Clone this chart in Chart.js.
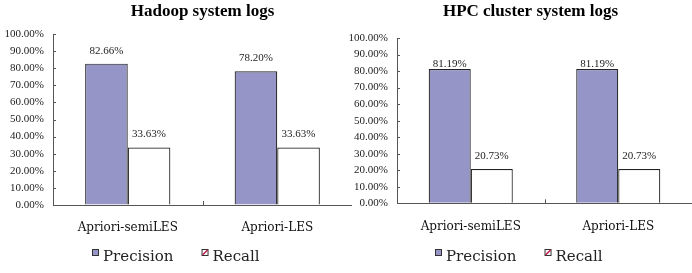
<!DOCTYPE html>
<html>
<head>
<meta charset="utf-8">
<script src="https://cdn.jsdelivr.net/npm/chart.js@4/dist/chart.umd.min.js"></script>
<style>
  html, body { margin: 0; padding: 0; background: #fff; }
  #wrap { position: relative; width: 692px; height: 273px; }
  #c1 { position: absolute; left: 0; top: 0; width: 352px; height: 273px; }
  #c2 { position: absolute; left: 346px; top: 0; width: 346px; height: 273px; }
</style>
</head>
<body>
<div id="wrap">
  <canvas id="c1" width="352" height="273"></canvas>
  <canvas id="c2" width="346" height="273"></canvas>
</div>
<script>
const categories = ['Apriori-semiLES', 'Apriori-LES'];
const seriesNames = ['Precision', 'Recall'];
const hadoopPrecision = [82.66, 78.20];
const hadoopRecall = [33.63, 33.63];
const hpcPrecision = [81.19, 81.19];
const hpcRecall = [20.73, 20.73];
const yMax = 100;
const yStep = 10;

Chart.defaults.font.family = '"Liberation Serif", "Times New Roman", serif';
Chart.defaults.color = '#111';

const purple = '#9595c8';
const edge = '#222';
const axisGray = '#555';
const wideSerif = '"DejaVu Serif", serif';

const topTitle = {
    id: 'topTitle',
    afterDraw(chart, args, opts) {
        const { ctx, chartArea } = chart;
        ctx.save();
        ctx.font = 'bold 17px "Liberation Serif", serif';
        ctx.fillStyle = '#000';
        ctx.textAlign = 'center';
        ctx.textBaseline = 'middle';
        ctx.fillText(opts.text, (chartArea.left + chartArea.right) / 2 + opts.shift, opts.y);
        ctx.restore();
    }
};

const barValues = {
    id: 'barValues',
    afterDatasetsDraw(chart, args, opts) {
        const ctx = chart.ctx;
        ctx.save();
        ctx.font = '11px "Liberation Serif", serif';
        ctx.fillStyle = '#222';
        ctx.textAlign = 'center';
        ctx.textBaseline = 'middle';
        chart.data.datasets.forEach((ds, i) => {
            chart.getDatasetMeta(i).data.forEach((bar, j) => {
                ctx.fillText(ds.data[j].toFixed(2) + '%', bar.x, bar.y - opts.gaps[i]);
            });
        });
        ctx.restore();
    }
};

// tick marks pointing into the plot, like the original
const innerTicks = {
    id: 'innerTicks',
    afterDraw(chart) {
        const ctx = chart.ctx;
        const xs = chart.scales.x, ys = chart.scales.y;
        const area = chart.chartArea;
        ctx.save();
        ctx.strokeStyle = axisGray;
        ctx.lineWidth = 1;
        ctx.beginPath();
        ys.ticks.forEach(t => {
            const y = Math.round(ys.getPixelForValue(t.value)) + 0.5;
            ctx.moveTo(area.left, y);
            ctx.lineTo(area.left + 3, y);
        });
        for (let i = 1; i < categories.length; i++) {
            const x = Math.round((xs.getPixelForValue(i - 1) + xs.getPixelForValue(i)) / 2) + 0.5;
            ctx.moveTo(x, area.bottom);
            ctx.lineTo(x, area.bottom - 4);
        }
        ctx.stroke();
        ctx.restore();
    }
};

// legend drawn by hand: small box tight against the text, wide gap between items
const boxLegend = {
    id: 'boxLegend',
    afterDraw(chart, args, opts) {
        const ctx = chart.ctx;
        ctx.save();
        ctx.font = '15px ' + wideSerif;
        ctx.textBaseline = 'middle';
        const items = chart.data.datasets.map(ds => ({
            text: ds.label, fill: ds.backgroundColor, slash: ds.label === 'Recall',
            w: 7 + 4 + ctx.measureText(ds.label).width
        }));
        const total = items.reduce((a, it) => a + it.w, 0) + opts.gap * (items.length - 1);
        let x = Math.round(chart.width / 2 - total / 2);
        items.forEach(it => {
            const top = opts.y - 8;
            ctx.fillStyle = it.fill;
            ctx.fillRect(x, top, 7, 7);
            ctx.strokeStyle = '#333';
            ctx.lineWidth = 1;
            ctx.strokeRect(x + 0.5, top + 0.5, 6, 6);
            if (it.slash) {
                ctx.strokeStyle = '#c0204a';
                ctx.lineWidth = 1.5;
                ctx.beginPath();
                ctx.moveTo(x + 1, top + 6);
                ctx.lineTo(x + 6, top + 1);
                ctx.stroke();
            }
            ctx.fillStyle = '#222';
            ctx.fillText(it.text, x + 11, opts.y);
            x += it.w + opts.gap;
        });
        ctx.restore();
    }
};

function makeChart(id, title, precision, recall, cfg) {
    return new Chart(document.getElementById(id), {
        type: 'bar',
        data: {
            labels: categories,
            datasets: [{
                label: seriesNames[0],
                data: precision,
                backgroundColor: purple,
                borderColor: edge,
                borderWidth: 1.2,
                categoryPercentage: 0.57,
                barPercentage: 1
            }, {
                label: seriesNames[1],
                data: recall,
                backgroundColor: '#fff',
                borderColor: edge,
                borderWidth: 1.2,
                categoryPercentage: 0.57,
                barPercentage: 1
            }]
        },
        options: {
            responsive: false,
            animation: false,
            layout: { padding: { top: cfg.top, left: 0, right: 0, bottom: cfg.bottom } },
            scales: {
                x: {
                    grid: { drawOnChartArea: false, tickLength: 4, color: 'rgba(0,0,0,0)' },
                    border: { color: axisGray },
                    ticks: { font: { family: wideSerif, size: 12 }, padding: 12, color: '#111' },
                    afterFit: s => { s.height = 30; }
                },
                y: {
                    min: 0,
                    max: yMax,
                    grid: { drawOnChartArea: false, tickLength: 4, color: 'rgba(0,0,0,0)' },
                    border: { color: axisGray },
                    ticks: {
                        stepSize: yStep,
                        padding: 5,
                        font: { size: 11 },
                        color: '#222',
                        callback: v => v.toFixed(2) + '%'
                    },
                    afterFit: s => { s.width = cfg.yWidth; }
                }
            },
            plugins: {
                legend: { display: false },
                tooltip: { enabled: false },
                topTitle: { text: title, y: 12, shift: cfg.titleShift },
                barValues: { gaps: cfg.gaps },
                boxLegend: { y: 257, gap: 28 }
            }
        },
        plugins: [topTitle, barValues, innerTicks, boxLegend]
    });
}

makeChart('c1', 'Hadoop system logs', hadoopPrecision, hadoopRecall,
    { top: 34, bottom: 38, yWidth: 53, titleShift: 0, gaps: [13, 13] });
makeChart('c2', 'HPC cluster system logs', hpcPrecision, hpcRecall,
    { top: 38, bottom: 39.7, yWidth: 51, titleShift: -14, gaps: [5, 13] });
</script>
</body>
</html>
